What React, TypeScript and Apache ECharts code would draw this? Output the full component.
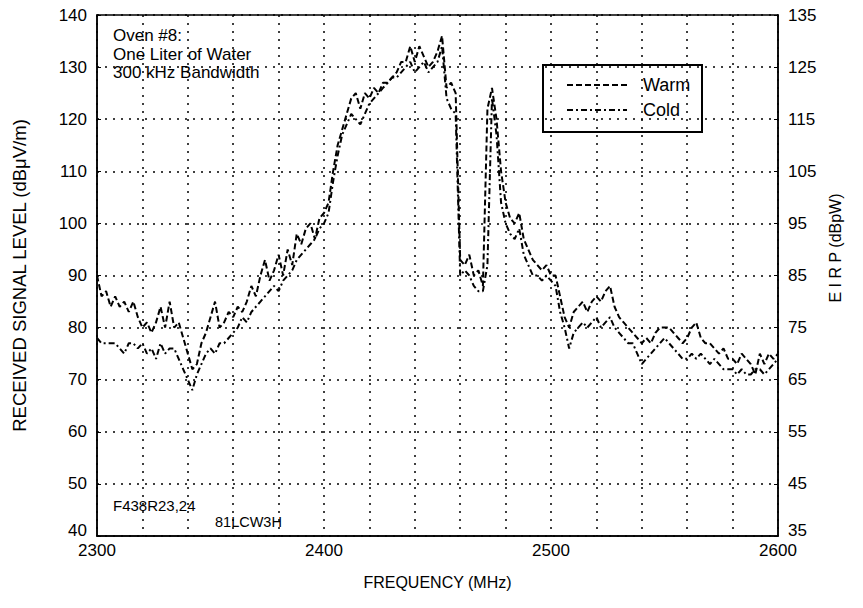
import React, { useEffect, useRef } from "react";
import * as echarts from "echarts";

const FREQ_START = 2300;
const FREQ_STEP = 2;

const warm = [
  90, 86, 87, 84, 86, 84, 85, 83, 85, 82,
  80, 81, 79, 81, 84, 80, 85, 80, 81, 78,
  75, 72, 73, 77, 79, 82, 85, 80, 81, 83,
  82, 84, 83, 85, 88, 86, 90, 93, 89, 91,
  94, 90, 95, 92, 98, 96, 99, 100, 97, 101,
  102, 104, 110, 115, 118, 121, 124, 125, 122, 125,
  124, 126, 125, 127, 127, 128, 129, 131, 131, 134,
  131, 134, 132, 130, 131, 133, 136, 126, 127, 125,
  93, 92, 94, 90, 91, 88, 122, 126, 120, 110,
  104, 101, 100, 102, 97, 95, 93, 92, 91, 92,
  90, 90, 86, 82, 80, 83, 84, 85, 83, 85,
  86, 85, 87, 88, 84, 82, 81, 80, 79, 78,
  77, 78, 77, 79, 80, 80, 80, 79, 78, 77,
  78, 80, 81, 78, 77, 77, 76, 75, 76, 74,
  74, 73, 75, 74, 73, 71, 75, 73, 75, 74, 75,
];

const cold = [
  78, 77, 77, 77, 77, 76, 75, 77, 77, 76,
  77, 75, 76, 74, 77, 75, 76, 76, 74, 72,
  70, 68, 71, 73, 75, 76, 75, 77, 77, 78,
  79, 80, 82, 81, 83, 84, 85, 86, 87, 88,
  87, 89, 90, 91, 93, 94, 95, 96, 97, 99,
  100, 102, 108, 113, 117, 119, 121, 120, 119, 121,
  123, 124, 125, 126, 127, 128, 128, 129, 130, 131,
  129, 130, 131, 129, 130, 131, 134, 124, 122, 121,
  90, 91, 90, 88, 87, 87, 92, 124, 117, 104,
  100, 98, 97, 99, 94, 92, 90, 90, 89, 90,
  89, 88, 83, 80, 76, 79, 80, 81, 80, 81,
  82, 80, 81, 82, 80, 79, 78, 77, 77, 75,
  73, 74, 75, 76, 77, 78, 77, 76, 75, 74,
  74, 75, 74, 75, 74, 73, 74, 73, 72, 72,
  72, 71, 72, 71, 71, 72, 72, 71, 72, 73, 74,
];

const seriesNames = ["Warm", "Cold"];
const notes = ["Oven #8:", "One Liter of Water", "300 kHz Bandwidth"];
const codes = ["F438R23,24", "81LCW3H"];
const EIRP_OFFSET = 5;
const WARM_DASH = [6, 3];
const COLD_DASH = [6, 3, 2, 3];

const FONT = "'Liberation Sans', Arial, Helvetica, sans-serif";

const toPairs = (vals: number[]) => vals.map((v, i) => [FREQ_START + i * FREQ_STEP, v]);

export default function App() {
  const ref = useRef<HTMLDivElement>(null);
  useEffect(() => {
    if (!ref.current) return;
    const chart = echarts.init(ref.current, undefined, { renderer: "svg" });
    const dotted = { color: "#000", width: 1.5, type: [2, 6] as any };
    const txt = (size: number) => ({ fontFamily: FONT, fontSize: size, fill: "#000" });
    chart.setOption({
      animation: false,
      backgroundColor: "#fff",
      textStyle: { fontFamily: FONT, color: "#000" },
      grid: {
        left: 97, right: 85, top: 15, bottom: 72,
        show: true, borderColor: "#000", borderWidth: 1.5,
      },
      xAxis: {
        type: "value", min: 2300, max: 2600, interval: 20,
        name: "FREQUENCY (MHz)", nameLocation: "middle", nameGap: 38,
        nameTextStyle: { fontFamily: FONT, fontSize: 16, color: "#000" },
        axisLine: { show: true, lineStyle: { color: "#000", width: 1.5 } },
        axisTick: { show: false },
        axisLabel: {
          fontFamily: FONT, fontSize: 17, color: "#000", margin: 6,
          formatter: (v: number) => (v % 100 === 0 ? String(v) : ""),
        },
        splitLine: { show: true, lineStyle: dotted },
      },
      yAxis: [
        {
          type: "value", min: 40, max: 140, interval: 10, position: "left",
          name: "RECEIVED SIGNAL LEVEL (dBμV/m)", nameLocation: "middle", nameGap: 68,
          nameTextStyle: { fontFamily: FONT, fontSize: 18.5, color: "#000" },
          axisLine: { show: true, lineStyle: { color: "#000", width: 1.5 } },
          axisTick: { show: true, inside: true, length: 4, lineStyle: { color: "#000" } },
          axisLabel: {
            fontFamily: FONT, fontSize: 17, color: "#000", margin: 10,
            formatter: (v: number) => (v === 40 ? "{low|40}" : String(v)),
            rich: { low: { fontFamily: FONT, fontSize: 17, color: "#000", padding: [0, 0, 12, 0] } },
          },
          splitLine: { show: true, lineStyle: dotted },
        },
        {
          type: "value", min: 40, max: 140, interval: 10, position: "right",
          axisLine: { show: true, lineStyle: { color: "#000", width: 1.5 } },
          axisTick: { show: true, inside: true, length: 4, lineStyle: { color: "#000" } },
          axisLabel: {
            fontFamily: FONT, fontSize: 17, color: "#000", margin: 10,
            formatter: (v: number) =>
              v === 40 ? `{low|${v - EIRP_OFFSET}}` : String(v - EIRP_OFFSET),
            rich: { low: { fontFamily: FONT, fontSize: 17, color: "#000", padding: [0, 0, 12, 0] } },
          },
          splitLine: { show: false },
        },
      ],
      series: [
        {
          name: seriesNames[0], type: "line", data: toPairs(warm), symbol: "none",
          lineStyle: { color: "#000", width: 2, type: WARM_DASH },
          itemStyle: { color: "#000" },
        },
        {
          name: seriesNames[1], type: "line", data: toPairs(cold), symbol: "none",
          lineStyle: { color: "#000", width: 2, type: COLD_DASH },
          itemStyle: { color: "#000" },
        },
      ],
      graphic: [
        { type: "text", left: 113, top: 27, style: { ...txt(17), text: notes[0] } },
        { type: "text", left: 113, top: 45.5, style: { ...txt(17), text: notes[1] } },
        { type: "text", left: 113, top: 64, style: { ...txt(17), text: notes[2] } },
        { type: "text", left: 113, top: 498, style: { ...txt(15), text: codes[0] } },
        { type: "text", left: 215, top: 514, style: { ...txt(14.5), text: codes[1] } },
        {
          type: "text", x: 835, y: 248, rotation: Math.PI / 2,
          style: { ...txt(16), text: "E I R P (dBpW)", align: "center", verticalAlign: "middle" },
        },
        {
          type: "group", z: 100,
          children: [
            {
              type: "rect", shape: { x: 543, y: 65, width: 159, height: 67 },
              style: { fill: "#fff", stroke: "#000", lineWidth: 2 },
            },
            {
              type: "line", shape: { x1: 567, y1: 85, x2: 627, y2: 85 },
              style: { stroke: "#000", lineWidth: 2, lineDash: WARM_DASH },
            },
            {
              type: "line", shape: { x1: 567, y1: 110, x2: 627, y2: 110 },
              style: { stroke: "#000", lineWidth: 2, lineDash: COLD_DASH },
            },
            {
              type: "text", x: 643, y: 85,
              style: { ...txt(18), text: seriesNames[0], verticalAlign: "middle" },
            },
            {
              type: "text", x: 643, y: 110,
              style: { ...txt(18), text: seriesNames[1], verticalAlign: "middle" },
            },
          ],
        },
      ],
    });
    return () => chart.dispose();
  }, []);
  return <div ref={ref} style={{ width: 863, height: 608, margin: -8 }} />;
}
